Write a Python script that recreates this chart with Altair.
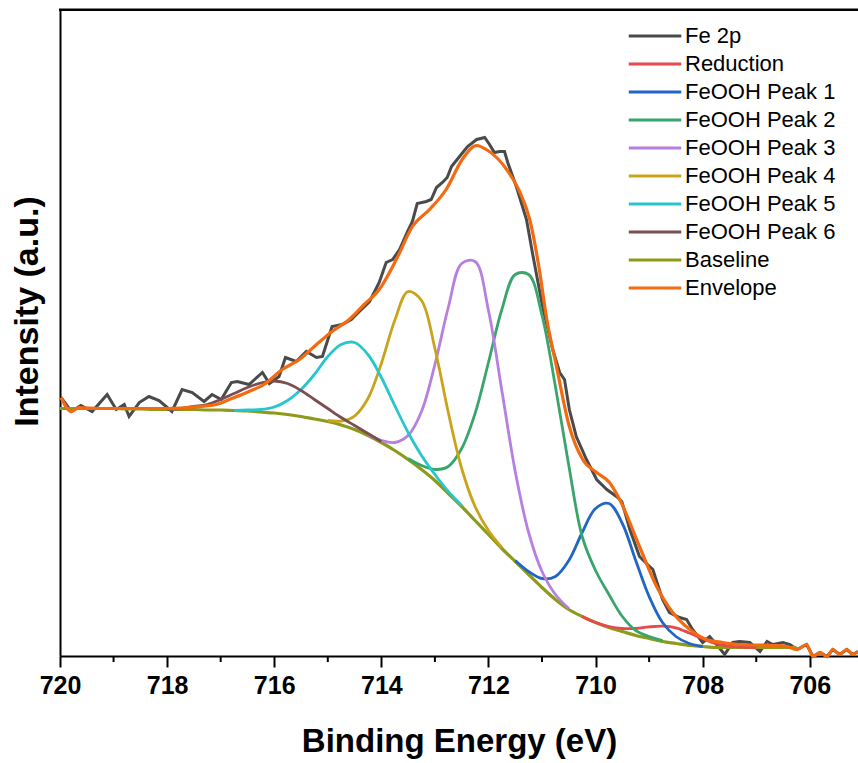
import altair as alt
import pandas as pd

# Series names (legend order) and their line colours
SERIES = ["Fe 2p", "Reduction", "FeOOH Peak 1", "FeOOH Peak 2", "FeOOH Peak 3",
          "FeOOH Peak 4", "FeOOH Peak 5", "FeOOH Peak 6", "Baseline", "Envelope"]
COLORS = ["#4a4a4a", "#e8474c", "#2166c4", "#3aa56b", "#b77fe0",
          "#c9a31b", "#26c6cc", "#7b4e51", "#8e9a1a", "#f36a10"]

# Measured Fe 2p spectrum (binding energy in eV, intensity in arbitrary units)
RAW_E = [719.98, 719.79, 719.61, 719.40, 719.12, 718.95, 718.80, 718.71, 718.52, 718.34,
         718.15, 717.91, 717.72, 717.53, 717.31, 717.16, 716.99, 716.80, 716.69, 716.47,
         716.22, 716.09, 715.91, 715.79, 715.59, 715.40, 715.21, 715.10, 714.92, 714.73,
         714.56, 714.41, 714.22, 714.04, 713.91, 713.79, 713.66, 713.51, 713.42, 713.33,
         713.16, 713.07, 712.97, 712.86, 712.77, 712.69, 712.54, 712.39, 712.22, 712.07,
         711.98, 711.89, 711.79, 711.70, 711.64, 711.48, 711.29, 711.18, 710.99, 710.80,
         710.67, 710.58, 710.49, 710.36, 710.17, 709.98, 709.79, 709.61, 709.51, 709.36,
         709.18, 709.03, 708.93, 708.75, 708.62, 708.43, 708.30, 708.19, 708.00, 707.87,
         707.74, 707.59, 707.44, 707.31, 707.12, 706.93, 706.80, 706.69, 706.50, 706.37,
         706.24, 706.06, 705.94, 705.81, 705.68, 705.57, 705.44, 705.31, 705.20, 705.10]
RAW_I = [257, 243, 249, 243, 260, 245, 250, 238, 252, 258,
         254, 243, 265, 262, 253, 260, 255, 272, 273, 270,
         282, 271, 278, 297, 293, 303, 297, 298, 328, 330,
         335, 343, 353, 372, 392, 395, 405, 423, 433, 451,
         453, 455, 467, 472, 477, 488, 498, 508, 515, 517,
         510, 502, 503, 503, 492, 468, 435, 402, 348, 305,
         282, 275, 245, 218, 195, 175, 165, 158, 153, 125,
         98, 90, 85, 55, 42, 37, 35, 25, 12, 18,
         10, 0, 12, 13, 12, 3, 13, 10, 12, 10,
         5, 10, -2, 2, -2, 5, 0, 5, 0, 3]

# Fitted envelope
ENV_E = [719.98, 719.79, 719.64, 719.27, 718.71, 717.96, 717.40, 717.08, 716.84, 716.47,
         716.19, 715.85, 715.53, 715.21, 714.92, 714.60, 714.32, 714.04, 713.72, 713.42,
         713.10, 712.79, 712.49, 712.22, 712.04, 711.66, 711.42, 711.23, 711.05, 710.92,
         710.73, 710.49, 710.24, 709.98, 709.74, 709.55, 709.18, 708.86, 708.56, 708.24,
         707.93, 707.63, 707.31, 706.69, 706.43, 706.24, 706.06, 705.94, 705.81, 705.68,
         705.57, 705.44, 705.31, 705.20, 705.10]
ENV_I = [257, 243, 247, 246, 246, 246, 248, 250, 255, 263,
         270, 285, 295, 310, 323, 335, 350, 365, 395, 428,
         445, 465, 495, 509, 505, 485, 463, 435, 385, 338,
         288, 228, 195, 182, 172, 155, 108, 68, 42, 25,
         15, 12, 10, 9, 8, 5, 10, -2, 2, -2,
         5, 0, 5, 0, 3]

# Shirley-type background
BASE_E = [720.0, 719.75, 719.5, 719.25, 719.0, 718.75, 718.5, 718.25, 718.0, 717.75,
          717.5, 717.25, 717.0, 716.75, 716.5, 716.25, 716.0, 715.75, 715.5, 715.25,
          715.0, 714.75, 714.5, 714.25, 714.0, 713.75, 713.5, 713.25, 713.0, 712.75,
          712.5, 712.25, 712.0, 711.75, 711.5, 711.25, 711.0, 710.75, 710.5, 710.25,
          710.0, 709.75, 709.5, 709.25, 709.0, 708.75, 708.5, 708.25, 708.0, 707.75,
          707.5, 707.25, 707.0, 706.75, 706.5, 706.25]
BASE_I = [246, 246, 246, 246, 246, 245.5, 245.5, 245, 245, 245,
          245, 244.5, 244.5, 244, 243.5, 242.5, 241.5, 240, 238, 235.5,
          233, 229.5, 225, 219, 212, 204, 195, 185, 174, 161,
          148, 134, 120, 106, 93, 80, 67, 55, 45, 38,
          32, 27, 23, 19, 16, 13, 11, 9, 8, 7,
          7, 7, 7, 7, 7, 7]

# Fitted components, each drawn on top of the background
RED_E = [710.25, 710.0, 709.75, 709.5, 709.25, 709.0, 708.75, 708.5, 708.25, 708.0,
         707.75, 707.5, 707.25, 707.0]
RED_I = [38, 32, 28, 26, 26, 27.6, 28.3, 26.7, 21.5, 15.8, 10.8, 8.4, 7.4, 7]

P1_E = [711.5, 711.25, 711.0, 710.75, 710.5, 710.25, 710.0, 709.75, 709.5, 709.25,
        709.0, 708.75, 708.5, 708.25, 708.0]
P1_I = [94, 83, 76, 78, 94, 122, 146, 151, 131, 94, 58, 32, 18, 11, 8]

P2_E = [713.5, 713.25, 713.0, 712.75, 712.5, 712.25, 712.0, 711.75, 711.5, 711.25,
        711.0, 710.75, 710.5, 710.25, 710.0, 709.75, 709.5, 709.25, 709.0, 708.75]
P2_I = [196, 189, 185, 188, 206, 241, 292, 345, 380, 380,
        339, 268, 189, 118, 84, 60, 38, 24, 18, 14]

P3_E = [714.25, 714.0, 713.75, 713.5, 713.25, 713.0, 712.75, 712.5, 712.25, 712.0,
        711.75, 711.5, 711.25, 711.0, 710.75, 710.5]
P3_I = [220, 214, 212, 219, 243, 290, 347, 391, 393, 344, 264, 183, 122, 83, 60, 46]

P4_E = [715.0, 714.75, 714.5, 714.25, 714.0, 713.75, 713.5, 713.25, 713.0, 712.75,
        712.5, 712.25, 712.0, 711.75]
P4_I = [234, 233.5, 238.5, 256, 291, 334, 363, 354, 306, 242, 186, 148, 124, 107]

P5_E = [716.75, 716.5, 716.25, 716.0, 715.75, 715.5, 715.25, 715.0, 714.75, 714.5,
        714.25, 714.0, 713.75, 713.5, 713.25, 713.0, 712.75, 712.5]
P5_I = [244, 244.5, 245, 247.5, 254, 265, 280, 298, 310, 312,
        300, 277, 249, 222, 199, 180, 163, 149]

P6_E = [718.0, 717.75, 717.5, 717.25, 717.0, 716.75, 716.5, 716.25, 716.0, 715.75,
        715.5, 715.25, 715.0, 714.75, 714.5, 714.25, 714.0]
P6_I = [245, 246, 248, 250, 255, 261, 267, 271.5, 273.5, 271,
        264, 255, 246, 237, 229, 221, 213]

MAJOR_TICKS = [720, 718, 716, 714, 712, 710, 708, 706]
MINOR_TICKS = [719, 717, 715, 713, 711, 709, 707]
X_DOMAIN = [720, 705.1]
Y_DOMAIN = [-1.5, 645.5]

CURVES = {
    "Fe 2p": (RAW_E, RAW_I),
    "Reduction": (RED_E, RED_I),
    "FeOOH Peak 1": (P1_E, P1_I),
    "FeOOH Peak 2": (P2_E, P2_I),
    "FeOOH Peak 3": (P3_E, P3_I),
    "FeOOH Peak 4": (P4_E, P4_I),
    "FeOOH Peak 5": (P5_E, P5_I),
    "FeOOH Peak 6": (P6_E, P6_I),
    "Baseline": (BASE_E, BASE_I),
    "Envelope": (ENV_E, ENV_I),
}

rows = []
for name, (es, vals) in CURVES.items():
    for e, v in zip(es, vals):
        rows.append({"series": name, "E": e, "I": v})
df = pd.DataFrame(rows)

FONT = "Liberation Sans"
W, H = 798, 647

x_scale = alt.Scale(domain=X_DOMAIN, nice=False, zero=False)
y_scale = alt.Scale(domain=Y_DOMAIN, nice=False, zero=False)

x_enc = alt.X(
    "E:Q",
    scale=x_scale,
    axis=alt.Axis(
        values=MAJOR_TICKS, format="d", grid=False,
        labelFont=FONT, labelFontWeight="bold", labelFontSize=25, labelColor="black",
        labelPadding=6, labelFlush=False, labelOverlap=False,
        tickSize=11, tickWidth=2, tickColor="black",
        domainColor="black", domainWidth=2,
        title="Binding Energy (eV)", titleFont=FONT, titleFontSize=33,
        titleFontWeight="bold", titleColor="black", titlePadding=27,
    ),
)
y_enc = alt.Y(
    "I:Q",
    scale=y_scale,
    axis=alt.Axis(
        labels=False, ticks=False, grid=False,
        domainColor="black", domainWidth=2,
        title="Intensity (a.u.)", titleFont=FONT, titleFontSize=34,
        titleFontWeight="bold", titleColor="black",
        titleAngle=270, titleAlign="center", titleBaseline="middle",
        titleX=-33, titleY=302,
    ),
)
color_enc = alt.Color(
    "series:N",
    scale=alt.Scale(domain=SERIES, range=COLORS),
    legend=alt.Legend(
        title=None, orient="none", legendX=583, legendY=15,
        symbolType="M-2.5,0H2.5", symbolSize=441, symbolStrokeWidth=3,
        labelFont=FONT, labelFontSize=22, labelColor="black",
        labelOffset=18, rowPadding=5, padding=0,
    ),
)

# draw order: spectrum, background, components, envelope on top
DRAW_ORDER = ["Fe 2p", "Baseline", "Reduction", "FeOOH Peak 1", "FeOOH Peak 2",
              "FeOOH Peak 3", "FeOOH Peak 4", "FeOOH Peak 5", "FeOOH Peak 6", "Envelope"]

layers = []
for name in DRAW_ORDER:
    if name == "Fe 2p":
        interp, sw = "linear", 3
    elif name in ("Baseline", "Envelope"):
        interp, sw = "monotone", 3.2
    else:
        interp, sw = "catmull-rom", 2.8
    layers.append(
        alt.Chart(df)
        .transform_filter(alt.datum.series == name)
        .mark_line(interpolate=interp, strokeWidth=sw)
        .encode(x=x_enc, y=y_enc, color=color_enc)
    )

# short unlabelled ticks at the odd energies
minor = (
    alt.Chart(pd.DataFrame({"E": MINOR_TICKS}))
    .mark_rule(color="black", strokeWidth=2)
    .encode(x=alt.X("E:Q", scale=x_scale), y=alt.value(H), y2=alt.value(H + 6))
)
# upper frame: a filled strip along the top edge of the plot area
top_frame = (
    alt.Chart(pd.DataFrame({"k": [0]}))
    .mark_rect(color="black", opacity=1)
    .encode(x=alt.value(-1), x2=alt.value(W + 2), y=alt.value(-0.5), y2=alt.value(2))
)

chart = (
    alt.layer(*layers, minor, top_frame)
    .properties(width=W, height=H, autosize="none",
                padding={"left": 60, "top": 9, "right": 0, "bottom": 107})
    .configure_view(stroke=None)
    .configure(background="white")
)

chart.save("out.html", embed_options={"renderer": "svg", "actions": False})
